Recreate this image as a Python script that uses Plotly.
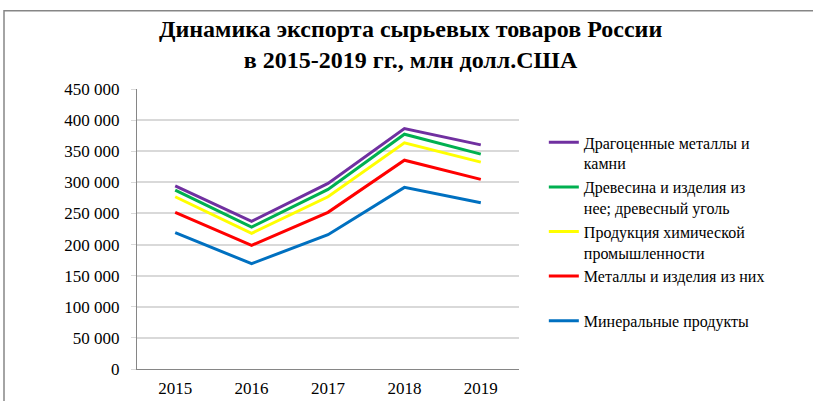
import plotly.graph_objects as go

years = ["2015", "2016", "2017", "2018", "2019"]
series_names = [
    "Драгоценные металлы и<br>камни",
    "Древесина и изделия из<br>нее; древесный уголь",
    "Продукция химической<br>промышленности",
    "Металлы и изделия из них<br> ",
    "Минеральные продукты",
]
precious = [294400, 237300, 298300, 386500, 360200]
wood = [287500, 228200, 288600, 377300, 345300]
chemical = [276800, 218000, 276800, 363400, 332500]
metals = [251800, 198800, 251800, 335600, 304700]
minerals = [219100, 169300, 215900, 291900, 267100]
colors = ["#7030A0", "#00B050", "#FFFF00", "#FF0000", "#0070C0"]
ytick_vals = [0, 50000, 100000, 150000, 200000, 250000, 300000, 350000, 400000, 450000]
ytick_text = ["0", "50 000", "100 000", "150 000", "200 000", "250 000",
              "300 000", "350 000", "400 000", "450 000"]

FONT = "Times New Roman, Liberation Serif, serif"
fig = go.Figure()
for i, (name, vals, col) in enumerate(zip(series_names,
                                          [precious, wood, chemical, metals, minerals],
                                          colors)):
    fig.add_trace(go.Scatter(x=years, y=vals, mode="lines", name=name,
                             line=dict(color=col, width=3),
                             legendgroup=f"g{i}"))

fig.update_layout(
    width=813, height=401,
    margin=dict(l=137, r=294, t=89, b=32),
    paper_bgcolor="white", plot_bgcolor="white",
    font=dict(family=FONT, size=17, color="black"),
    title=dict(text="<b>Динамика экспорта сырьевых товаров России<br>в 2015-2019 гг., млн долл.США</b>",
               x=0.505, xanchor="center", y=1 - 37 / 401, yanchor="middle",
               font=dict(family=FONT, size=24, color="black")),
    showlegend=True,
    legend=dict(x=1.065, xanchor="left", y=0.87, yanchor="top",
                font=dict(family=FONT, size=16, color="black"),
                valign="top", tracegroupgap=0, itemwidth=30,
                bgcolor="rgba(0,0,0,0)"),
    xaxis=dict(type="category", range=[-0.5, 4.5], showgrid=False,
               showline=True, linecolor="#868686", linewidth=1,
               ticks="", ticklabelstandoff=4, automargin=False,
               tickfont=dict(family=FONT, size=17)),
    yaxis=dict(range=[0, 450000], tickvals=ytick_vals, ticktext=ytick_text,
               showgrid=True, gridcolor="#d9d9d9", gridwidth=1.5,
               showline=True, linecolor="#868686", linewidth=1,
               ticks="outside", ticklen=5, tickcolor="#d9d9d9",
               ticklabelstandoff=8, zeroline=False, automargin=False,
               tickfont=dict(family=FONT, size=17)),
    shapes=[dict(type="rect", xref="paper", yref="paper",
                 x0=(4 - 137) / 382, x1=(830 - 137) / 382,
                 y0=(369 - 420) / 280.6, y1=(369 - 10) / 280.6,
                 line=dict(color="#868686", width=1.5))],
)
fig.write_html("out.html", config={"displayModeBar": False},
               post_script="document.body.style.margin='0';")
